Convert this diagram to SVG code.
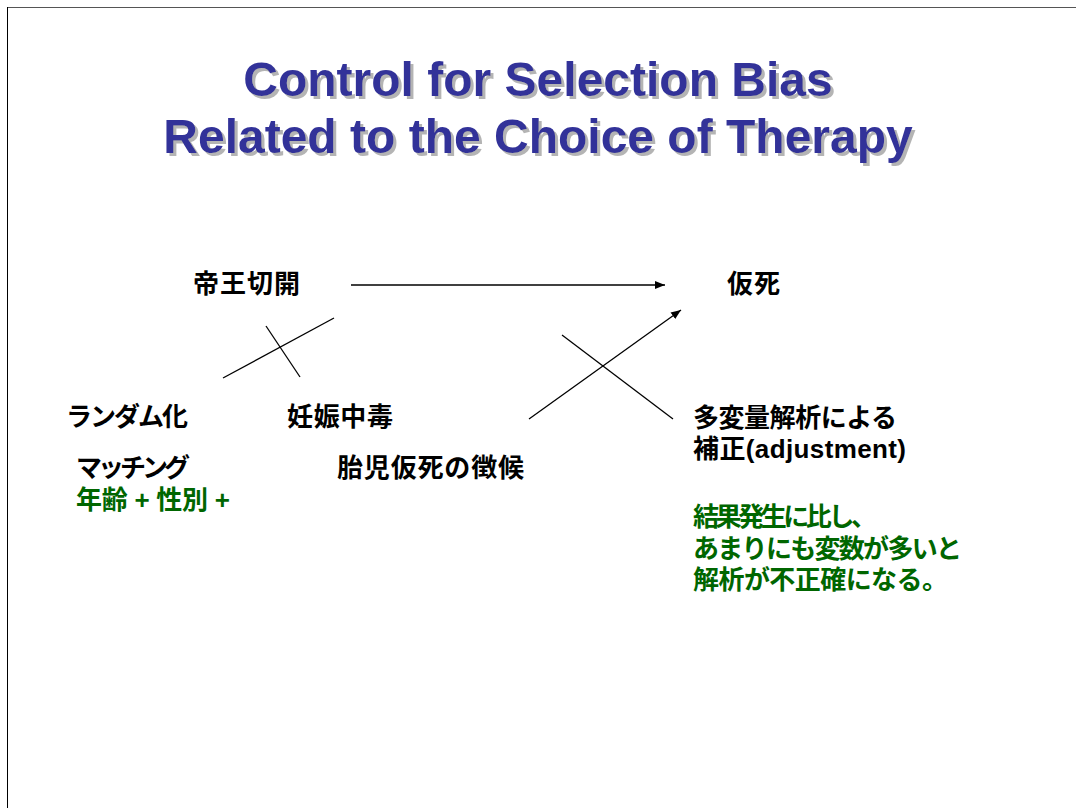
<svg xmlns="http://www.w3.org/2000/svg" width="1076" height="810" viewBox="0 0 1076 810">
<style>
.t{font-family:"Liberation Sans","Noto Sans CJK JP",sans-serif;font-weight:bold;font-size:26px;fill:#000}
.g{fill:#006600}
.title{font-family:"Liberation Sans",Arial,sans-serif;font-weight:bold;font-size:48px;text-anchor:middle;fill:#333399}
.ln{stroke:#000;stroke-width:1.3;fill:none}
</style>
<defs>
<marker id="ah" viewBox="0 0 10 10" refX="10" refY="5" markerWidth="10" markerHeight="10" markerUnits="userSpaceOnUse" orient="auto">
<path d="M0,1 L10,5 L0,9 z" fill="#000"/>
</marker>
<filter id="sh" x="-5%" y="-20%" width="110%" height="140%">
<feOffset in="SourceAlpha" dx="3" dy="3" result="o"/>
<feFlood flood-color="#b4b4b4"/>
<feComposite in2="o" operator="in" result="s"/>
<feMerge><feMergeNode in="s"/><feMergeNode in="SourceGraphic"/></feMerge>
</filter>
</defs>
<rect width="1076" height="810" fill="#fff"/>
<line x1="7" y1="7.5" x2="1076" y2="7.5" stroke="#555" stroke-width="1"/>
<line x1="7.5" y1="7" x2="7.5" y2="808" stroke="#000" stroke-width="1"/>
<g id="title" filter="url(#sh)">
<text class="title" x="538" y="96">Control for Selection Bias</text>
<text class="title" x="538" y="153">Related to the Choice of Therapy</text>
</g>
<g id="connectors">
<line class="ln" x1="351" y1="285" x2="665" y2="285" marker-end="url(#ah)"/>
<line class="ln" x1="529" y1="419" x2="681" y2="310" marker-end="url(#ah)"/>
<line class="ln" x1="223" y1="378" x2="334" y2="318"/>
<line class="ln" x1="266" y1="326" x2="300" y2="377"/>
<line class="ln" x1="562" y1="335" x2="673" y2="419"/>
</g>
<g id="n-cesarean"><text class="t" x="193" y="293" textLength="107" lengthAdjust="spacing">帝王切開</text></g>
<g id="n-asphyxia"><text class="t" x="727" y="293" textLength="53" lengthAdjust="spacing">仮死</text></g>
<g id="n-random"><text class="t" x="66" y="426" textLength="122" lengthAdjust="spacing">ランダム化</text></g>
<g id="n-toxemia"><text class="t" x="287" y="426" textLength="106" lengthAdjust="spacing">妊娠中毒</text></g>
<g id="n-matching">
<text class="t" x="76" y="477" textLength="114" lengthAdjust="spacing">マッチング</text>
<text class="t g" x="76" y="509" textLength="154" lengthAdjust="spacing">年齢 + 性別 +</text>
</g>
<g id="n-distress"><text class="t" x="337" y="477" textLength="187" lengthAdjust="spacing">胎児仮死の徴候</text></g>
<g id="n-multivariate">
<text class="t" x="693" y="427" textLength="204" lengthAdjust="spacing">多変量解析による</text>
<text class="t" x="693" y="458" textLength="213" lengthAdjust="spacing">補正(adjustment)</text>
</g>
<g id="n-note">
<text class="t g" x="693" y="526" textLength="184" lengthAdjust="spacing">結果発生に比し、</text>
<text class="t g" x="693" y="558" textLength="269" lengthAdjust="spacing">あまりにも変数が多いと</text>
<text class="t g" x="693" y="589" textLength="255" lengthAdjust="spacing">解析が不正確になる。</text>
</g>
</svg>
